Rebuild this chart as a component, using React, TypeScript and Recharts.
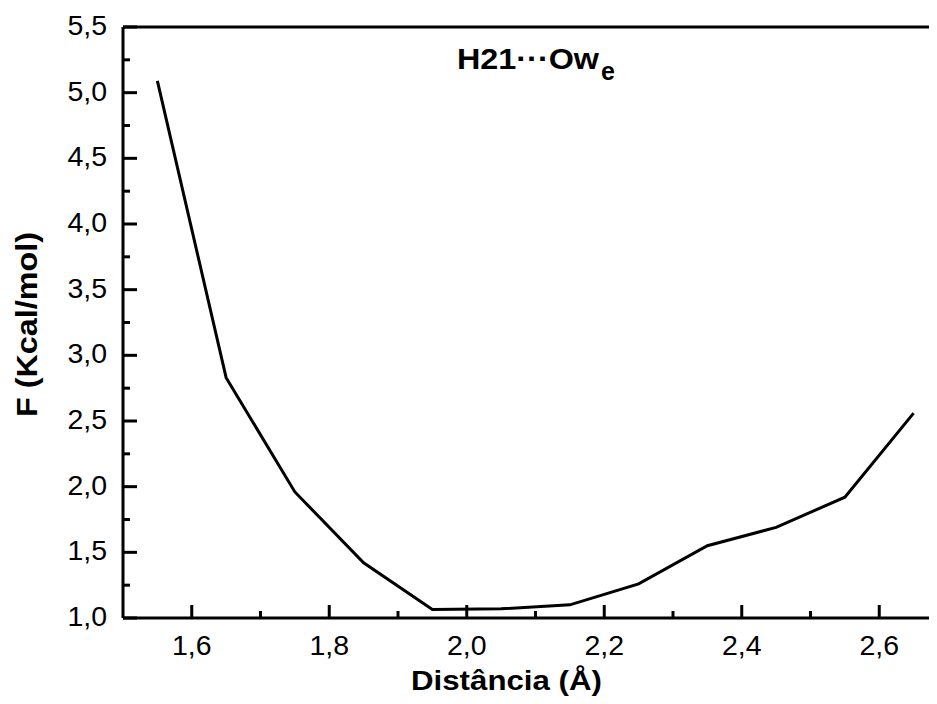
import React from 'react';
import {
  LineChart,
  Line,
  XAxis,
  YAxis,
  ReferenceLine,
  Customized,
} from 'recharts';

// free energy profile H21···Ow_e
const distances = [1.55, 1.65, 1.75, 1.85, 1.95, 2.05, 2.15, 2.25, 2.35, 2.45, 2.55, 2.65];
const energies = [5.09, 2.83, 1.96, 1.42, 1.065, 1.07, 1.1, 1.26, 1.55, 1.69, 1.92, 2.56];

const xMajorTicks = [1.6, 1.8, 2.0, 2.2, 2.4, 2.6];
const xMinorTicks = [1.7, 1.9, 2.1, 2.3, 2.5];
const yMajorTicks = [1.0, 1.5, 2.0, 2.5, 3.0, 3.5, 4.0, 4.5, 5.0, 5.5];
const yMinorTicks = [1.25, 1.75, 2.25, 2.75, 3.25, 3.75, 4.25, 4.75, 5.25];

const FONT = '"Liberation Sans", Arial, Helvetica, sans-serif';

const data = distances.map((d, i) => ({ x: d, f: energies[i] }));
const xTicks = [...xMajorTicks, ...xMinorTicks].sort((a, b) => a - b);
const yTicks = [...yMajorTicks, ...yMinorTicks].sort((a, b) => a - b);

const fmt = (v: number) => v.toFixed(1).replace('.', ',');

function XTick({ x, y, payload }: any) {
  const major = xMajorTicks.includes(payload.value);
  return (
    <g>
      <line x1={x} x2={x} y1={y} y2={y - (major ? 13 : 7)} stroke="#000" strokeWidth={3} />
      {major && (
        <text x={x} y={y + 37} textAnchor="middle" fontSize={28.5} fontFamily={FONT} fill="#000">
          {fmt(payload.value)}
        </text>
      )}
    </g>
  );
}

function YTick({ x, y, payload }: any) {
  const major = yMajorTicks.includes(payload.value);
  return (
    <g>
      <line x1={x} x2={x + (major ? 14 : 7)} y1={y} y2={y} stroke="#000" strokeWidth={3} />
      {major && (
        <text x={x - 16} y={y + 8} textAnchor="end" fontSize={28.5} fontFamily={FONT} fill="#000">
          {fmt(payload.value)}
        </text>
      )}
    </g>
  );
}

function Titles() {
  return (
    <g fontFamily={FONT} fontWeight="bold" fill="#000">
      <text x={449} y={61} fontSize={29} textLength={142} lengthAdjust="spacingAndGlyphs">
        H21···Ow
      </text>
      <text x={593} y={72} fontSize={25}>
        e
      </text>
      <text x={403} y={682} fontSize={28} textLength={191} lengthAdjust="spacingAndGlyphs">
        Distância (Å)
      </text>
      <text
        transform="translate(29,316.5) rotate(-90)"
        textAnchor="middle"
        fontSize={30}
        textLength={185}
        lengthAdjust="spacingAndGlyphs"
      >
        F (Kcal/mol)
      </text>
    </g>
  );
}

export default function App() {
  return (
    <div style={{ width: 929, height: 696, overflow: 'hidden' }}>
      <LineChart width={950} height={696} data={data} margin={{ top: 19, right: 10, left: 0, bottom: 0 }}>
        <XAxis
          dataKey="x"
          type="number"
          domain={[1.5, 2.7]}
          ticks={xTicks}
          interval={0}
          tickSize={0}
          tickMargin={0}
          height={86}
          axisLine={{ stroke: '#000', strokeWidth: 3 }}
          tickLine={false}
          tick={<XTick />}
        />
        <YAxis
          type="number"
          domain={[1, 5.5]}
          ticks={yTicks}
          interval={0}
          tickSize={0}
          tickMargin={0}
          width={115}
          axisLine={{ stroke: '#000', strokeWidth: 3 }}
          tickLine={false}
          tick={<YTick />}
        />
        <ReferenceLine y={5.5} stroke="#000" strokeWidth={3} />
        <Line
          type="linear"
          dataKey="f"
          stroke="#000"
          strokeWidth={3}
          dot={false}
          isAnimationActive={false}
        />
        <Customized component={<Titles />} />
      </LineChart>
    </div>
  );
}
